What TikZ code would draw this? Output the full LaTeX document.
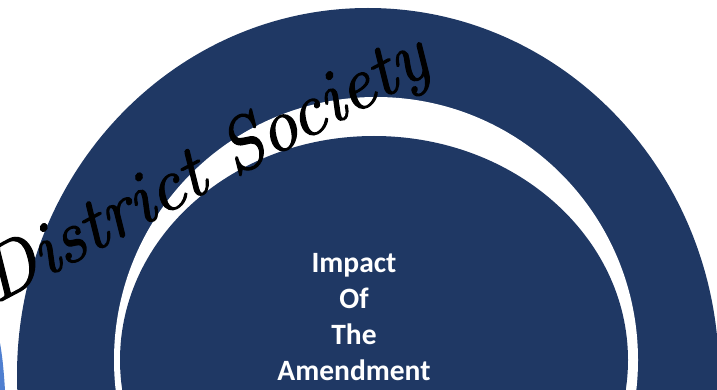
\documentclass[tikz,border=0pt]{standalone}
\usepackage{fontspec}
\newfontfamily\calibri{Carlito}
\newfontfamily\scriptitalic{lmroman12-italic.otf}[FakeBold=1.6]
\definecolor{navy}{HTML}{1F3864}
\definecolor{sliver}{HTML}{4F7FD0}

\begin{document}
\begin{tikzpicture}[x=1pt,y=-1pt,
		band/.style={fill=navy},
		gap/.style={fill=white}]
		\useasboundingbox (0,0) rectangle (717,390);
		\clip (0,0) rectangle (717,390);
		
		% outer band, white gap and inner disk
		\fill[band] (368,375) ellipse [x radius=351, y radius=367];
		\fill[gap] (376,360) ellipse [x radius=262, y radius=263];
		\fill[band] (374,360) ellipse [x radius=254, y radius=224];
		
		% edge of the next shape on the left
		\fill[sliver] (0,343) .. controls (3,360) and (4,375) .. (5,390) -- (0,390) -- cycle;
		
		\node[text=white,font=\calibri\bfseries\fontsize{29.5}{36}\selectfont,align=center,anchor=north,inner sep=0pt] (impact) at (354,253) {Impact\\Of\\The\\Amendment};
		
		\node[font=\scriptitalic\fontsize{75}{80}\selectfont,rotate=28,anchor=base west,inner sep=0pt] (district) at (-4,304) {District Society};
\end{tikzpicture}
\end{document}
